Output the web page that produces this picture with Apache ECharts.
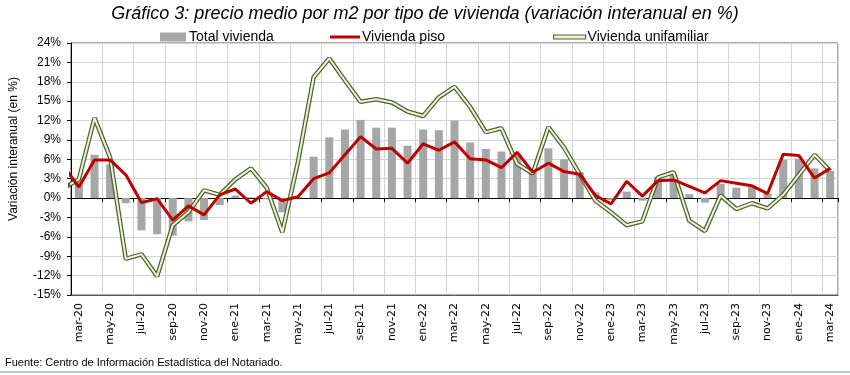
<!DOCTYPE html>
<html>
<head>
<meta charset="utf-8">
<script src="https://cdn.jsdelivr.net/npm/echarts@6/dist/echarts.min.js"></script>
<style>
  html, body { margin: 0; padding: 0; background: #fff; }
  #chart { width: 850px; height: 375px; }
</style>
</head>
<body>
<div id="chart"></div>
<script>
const meses = ['mar-20','abr-20','may-20','jun-20','jul-20','ago-20','sep-20','oct-20','nov-20','dic-20',
  'ene-21','feb-21','mar-21','abr-21','may-21','jun-21','jul-21','ago-21','sep-21','oct-21','nov-21','dic-21',
  'ene-22','feb-22','mar-22','abr-22','may-22','jun-22','jul-22','ago-22','sep-22','oct-22','nov-22','dic-22',
  'ene-23','feb-23','mar-23','abr-23','may-23','jun-23','jul-23','ago-23','sep-23','oct-23','nov-23','dic-23',
  'ene-24','feb-24','mar-24'];

// Total vivienda (barras), mar-20 .. mar-24
const totalVivienda = [2.5, 6.7, 5.2, -0.8, -5.0, -5.6, -5.8, -3.6, -3.4, -1.1,
  0.4, 0.1, -0.2, -2.2, 0.2, 6.4, 9.4, 10.6, 12.1, 10.9, 10.9, 8.1,
  10.6, 10.5, 12.0, 8.6, 7.6, 7.2, 6.8, 4.0, 7.7, 6.0, 4.0, 0.9,
  -0.3, 1.0, -0.4, 3.3, 3.6, 0.6, -0.7, 2.2, 1.6, 1.8, 0.7, 5.9,
  6.1, 4.6, 4.2];

// lineas: feb-20 .. mar-24 (el primer valor solo asoma en el borde izquierdo)
const viviendaPiso = [5.1, 1.7, 5.9, 5.9, 3.6, -0.7, -0.1, -3.4, -1.2, -2.6, 0.5,
  1.4, -0.8, 1.0, -0.4, 0.2, 3.0, 3.9, 6.7, 9.5, 7.6, 7.7, 5.4,
  8.4, 7.4, 8.7, 6.1, 5.9, 4.7, 7.1, 4.0, 5.4, 4.1, 3.7, 0.4,
  -0.9, 2.6, 0.3, 2.7, 2.8, 1.8, 0.8, 2.7, 2.3, 1.9, 0.7, 6.8,
  6.6, 3.1, 4.6];
const viviendaUnifamiliar = [1.5, 2.9, 12.4, 6.3, -9.4, -8.7, -12.1, -4.2, -2.2, 1.2, 0.5,
  2.9, 4.6, 1.6, -5.3, 5.6, 18.7, 21.6, 18.2, 14.9, 15.3, 14.8, 13.4,
  12.7, 15.6, 17.2, 14.1, 10.2, 10.8, 5.3, 3.8, 11.0, 7.8, 3.7, -0.4,
  -2.2, -4.2, -3.6, 3.2, 4.0, -3.5, -5.1, 0.4, -1.7, -0.8, -1.6, 0.5,
  3.6, 6.7, 4.2];

const toXY = arr => arr.map((v, i) => [i - 1, v]);

const fontBase = 'Liberation Sans, Arial, sans-serif';
const chart = echarts.init(document.getElementById('chart'));

chart.setOption({
  animation: false,
  textStyle: { fontFamily: fontBase },
  title: {
    text: 'Gráfico 3: precio medio por m2 por tipo de vivienda (variación interanual en %)',
    left: 'center',
    top: 0,
    textStyle: { fontSize: 18, fontStyle: 'italic', fontWeight: 'normal', color: '#000', fontFamily: fontBase }
  },
  legend: [
    {
      left: 160, top: 30, padding: 0, itemWidth: 26, itemHeight: 9, itemGap: 4,
      textStyle: { fontSize: 14, color: '#000', padding: [0, 0, 0, -2] },
      data: [{ name: 'Total vivienda', icon: 'rect' }]
    },
    {
      left: 330, top: 30, padding: 0, itemWidth: 30, itemHeight: 3,
      textStyle: { fontSize: 14, color: '#000', padding: [0, 0, 0, -3] },
      data: [{ name: 'Vivienda piso', icon: 'rect', itemStyle: { color: '#c00000' } }]
    },
    {
      left: 553, top: 30, padding: 0, itemWidth: 32, itemHeight: 4,
      textStyle: { fontSize: 14, color: '#000', padding: [0, 0, 0, -3] },
      data: [{ name: 'Vivienda unifamiliar', icon: 'rect',
        itemStyle: { color: '#eef3e0', borderColor: '#4f6228', borderWidth: 1.2 } }]
    }
  ],
  grid: {
    left: 71, right: 12, top: 43, bottom: 80,
    show: true, borderColor: '#595959', borderWidth: 1, backgroundColor: 'transparent'
  },
  xAxis: [
    {
      type: 'category',
      data: meses,
      position: 'bottom',
      axisLine: { onZero: false, lineStyle: { color: '#595959', width: 1 } },
      axisTick: { show: false },
      axisLabel: { interval: 1, rotate: 90, fontSize: 11, color: '#000', margin: 8, fontFamily: 'DejaVu Sans' },
      splitLine: { show: true, interval: 1, lineStyle: { color: '#d4d4d4', width: 1 } }
    },
    {
      type: 'category',
      data: meses,
      position: 'bottom',
      axisLine: { onZero: true, lineStyle: { color: '#000', width: 1 } },
      axisTick: { show: true, interval: 1, length: 4, lineStyle: { color: '#000' } },
      axisLabel: { show: false },
      splitLine: { show: false }
    },
    {
      type: 'value',
      min: -0.5,
      max: meses.length - 0.5,
      show: false
    }
  ],
  yAxis: {
    type: 'value',
    min: -15,
    max: 24,
    interval: 3,
    axisLine: { show: true, onZero: false, lineStyle: { color: '#000' } },
    axisTick: { show: true, length: 4, lineStyle: { color: '#000' } },
    axisLabel: { formatter: '{value}%', fontSize: 12, color: '#000', margin: 10 },
    splitLine: { show: true, lineStyle: { color: '#d4d4d4', width: 1 } }
  },
  series: [
    {
      name: 'Total vivienda',
      type: 'bar',
      xAxisIndex: 0,
      data: totalVivienda,
      barWidth: 8,
      itemStyle: { color: '#a6a6a6' },
      z: 2
    },
    {
      name: 'Vivienda unifamiliar',
      type: 'line',
      xAxisIndex: 2,
      data: toXY(viviendaUnifamiliar),
      symbol: 'none',
      lineStyle: { color: '#4f6228', width: 4.5 },
      itemStyle: { color: '#4f6228' },
      z: 3
    },
    {
      name: 'unifamiliar-interior',
      type: 'line',
      xAxisIndex: 2,
      data: toXY(viviendaUnifamiliar),
      symbol: 'none',
      lineStyle: { color: '#eef3e0', width: 2 },
      z: 4
    },
    {
      name: 'Vivienda piso',
      type: 'line',
      xAxisIndex: 2,
      data: toXY(viviendaPiso),
      symbol: 'none',
      lineStyle: { color: '#c00000', width: 3 },
      itemStyle: { color: '#c00000' },
      z: 5
    }
  ],
  graphic: [
    {
      type: 'text',
      x: 14,
      y: 149,
      rotation: Math.PI / 2,
      style: { text: 'Variación interanual (en %)', fontSize: 12, fill: '#000', fontFamily: fontBase,
        align: 'center', verticalAlign: 'middle' }
    },
    {
      type: 'text',
      left: 5,
      top: 357,
      style: { text: 'Fuente: Centro de Información Estadística del Notariado.', fontSize: 11, fill: '#000', fontFamily: fontBase }
    },
    {
      type: 'line',
      shape: { x1: 0, y1: 372, x2: 850, y2: 372 },
      style: { stroke: '#6f8fb3', lineWidth: 1 }
    }
  ]
});
</script>
</body>
</html>
